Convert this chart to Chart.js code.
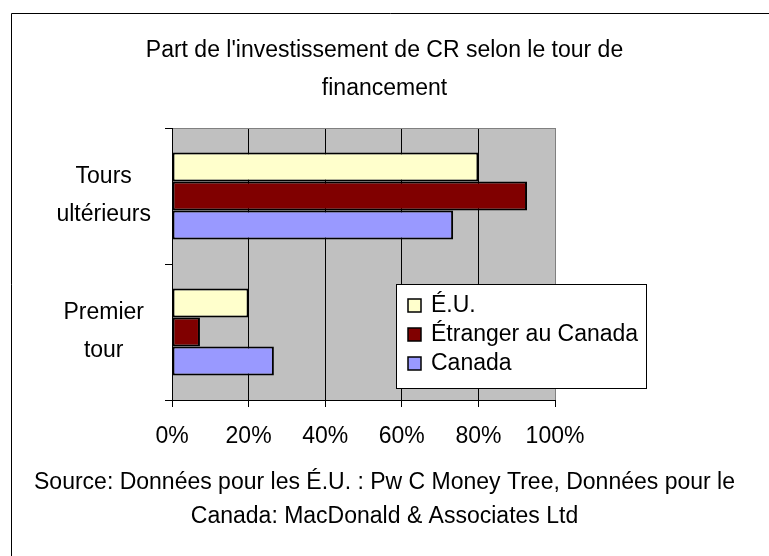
<!DOCTYPE html>
<html>
<head>
<meta charset="utf-8">
<script src="https://cdn.jsdelivr.net/npm/chart.js@4/dist/chart.umd.min.js"></script>
<style>
	html, body { margin: 0; padding: 0; background: #fff; }
	#wrap { width: 769px; height: 556px; }
</style>
</head>
<body>
<div id="wrap"><canvas id="chart" width="769" height="556"></canvas></div>
<script>
const rounds = [['Tours', 'ultérieurs'], ['Premier', 'tour']]
const seriesNames = ['É.U.', 'Étranger au Canada', 'Canada']
const euValues = [80, 20]
const etrangerValues = [92.7, 7.3]
const canadaValues = [73.4, 26.6]
const xTicks = [0, 20, 40, 60, 80, 100]
const titleLines = ["Part de l'investissement de CR selon le tour de", 'financement']
const sourceLines = ['Source: Données pour les É.U. : Pw C Money Tree, Données pour le', 'Canada: MacDonald & Associates Ltd']

const colors = ['#FFFFCC', '#800000', '#9999FF']
const FONT = "'Liberation Sans', Arial, sans-serif"
const SIZE = 23

Chart.defaults.font.family = FONT
Chart.defaults.font.size = SIZE
Chart.defaults.color = '#000'

// gray plot area + cropped outer frame
const backdrop = {
	id: 'backdrop',
	beforeDraw(chart) {
		const { ctx, chartArea: a } = chart
		ctx.save()
		ctx.fillStyle = '#fff'
		ctx.fillRect(0, 0, chart.width, chart.height)
		ctx.strokeStyle = '#000'
		ctx.lineWidth = 1
		ctx.beginPath()
		ctx.moveTo(11.5, chart.height)
		ctx.lineTo(11.5, 13.5)
		ctx.lineTo(chart.width, 13.5)
		ctx.stroke()
		ctx.fillStyle = '#C0C0C0'
		ctx.fillRect(a.left, a.top, a.right - a.left, a.bottom - a.top)
		ctx.restore()
	},
}

// boxed legend sitting over the lower right of the plot
const boxLegend = {
	id: 'boxLegend',
	afterDatasetsDraw(chart) {
		const { ctx, chartArea: a } = chart
		const left = a.left + 224
		const top = a.top + 156
		ctx.save()
		ctx.fillStyle = '#fff'
		ctx.fillRect(left, top, 250, 104)
		ctx.strokeStyle = '#000'
		ctx.lineWidth = 1
		ctx.strokeRect(left + 0.5, top + 0.5, 250, 104)
		ctx.font = SIZE + 'px ' + FONT
		ctx.textBaseline = 'middle'
		chart.data.datasets.forEach((ds, i) => {
			const y = top + 21 + i * 29
			ctx.fillStyle = ds.backgroundColor
			ctx.fillRect(left + 12, y - 6, 13, 13)
			ctx.strokeStyle = '#000'
			ctx.lineWidth = 1.5
			ctx.strokeRect(left + 12, y - 6, 13, 13)
			ctx.fillStyle = '#000'
			ctx.fillText(ds.label, left + 35, y + 1)
		})
		ctx.restore()
	},
}

new Chart(document.getElementById('chart'), {
	type: 'bar',
	data: {
		labels: rounds,
		datasets: [
			{ label: seriesNames[0], data: euValues, backgroundColor: colors[0] },
			{ label: seriesNames[1], data: etrangerValues, backgroundColor: colors[1] },
			{ label: seriesNames[2], data: canadaValues, backgroundColor: colors[2] },
		],
	},
	options: {
		indexAxis: 'y',
		responsive: false,
		animation: false,
		events: [],
		datasets: {
			bar: {
				borderColor: '#000',
				borderWidth: 2,
				borderSkipped: false,
				categoryPercentage: 0.64,
				barPercentage: 1,
			},
		},
		layout: { padding: 0 },
		plugins: {
			legend: { display: false },
			tooltip: { enabled: false },
			title: {
				display: true,
				text: titleLines,
				font: { size: SIZE, weight: 'normal', lineHeight: 38 / SIZE },
				padding: { top: 32, bottom: 20 },
			},
			subtitle: {
				display: true,
				position: 'bottom',
				text: sourceLines,
				font: { size: SIZE, weight: 'normal', lineHeight: 34 / SIZE },
				padding: { top: 0, bottom: 22 },
			},
		},
		scales: {
			x: {
				min: 0,
				max: 100,
				afterBuildTicks(s) {
					s.ticks = xTicks.map(v => ({ value: v }))
				},
				afterFit(s) {
					s.height = 66
				},
				ticks: {
					padding: 16,
					callback: v => v + '%',
				},
				grid: {
					color: c => (c.index === xTicks.length - 1 ? '#808080' : '#000'),
					tickColor: '#000',
					tickLength: 7,
					lineWidth: 1,
				},
				border: { color: '#000', width: 1 },
			},
			y: {
				afterFit(s) {
					s.width = 172
				},
				ticks: {
					padding: 14,
					crossAlign: 'center',
					font: { size: SIZE, lineHeight: 38 / SIZE },
				},
				grid: {
					offset: true,
					color: c => (c.index === 0 ? '#808080' : 'rgba(0,0,0,0)'),
					tickColor: '#000',
					tickLength: 7,
				},
				border: { color: '#000', width: 1 },
			},
			yPad: {
				type: 'category',
				position: 'right',
				grid: { display: false },
				ticks: { display: false },
				border: { display: false },
				afterFit(s) {
					s.width = 214
				},
			},
		},
	},
	plugins: [backdrop, boxLegend],
})
</script>
</body>
</html>
